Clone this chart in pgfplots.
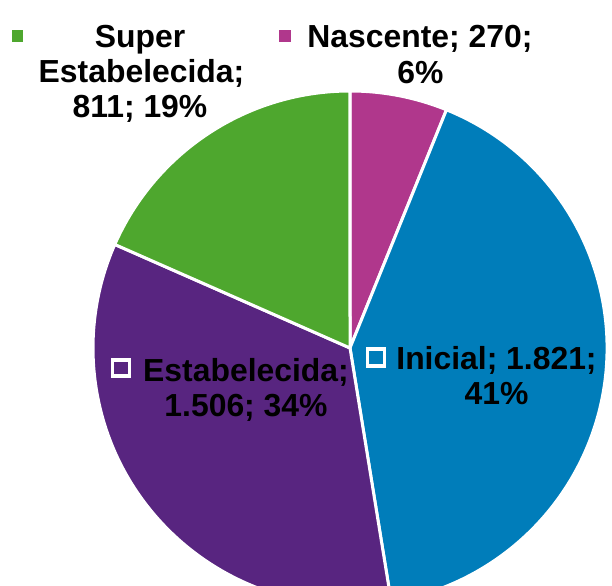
\documentclass[border=0pt]{standalone}
\usepackage{pgfplots}
\pgfplotsset{compat=1.18}
\usepackage{fontspec}
\setmainfont{Liberation Sans}
\definecolor{cNas}{RGB}{176,55,140}
\definecolor{cIni}{RGB}{0,125,186}
\definecolor{cEst}{RGB}{88,37,128}
\definecolor{cSup}{RGB}{78,167,46}
% data
\def\vNas{270}
\def\vIni{1821}
\def\vEst{1506}
\def\vSup{811}
\begin{document}
\begin{tikzpicture}
\path[use as bounding box] (0,0) rectangle (612bp,586bp);
\pgfmathsetmacro{\tot}{\vNas+\vIni+\vEst+\vSup}
\pgfmathsetmacro{\aA}{90}
\pgfmathsetmacro{\aB}{\aA-360*(\vNas/\tot)}
\pgfmathsetmacro{\aC}{\aB-360*(\vIni/\tot)}
\pgfmathsetmacro{\aD}{\aC-360*(\vEst/\tot)}
\pgfmathsetmacro{\aE}{\aD-360*(\vSup/\tot)}
\begin{axis}[
  at={(0,0)}, anchor=south west,
  width=612bp, height=586bp, scale only axis,
  xmin=0, xmax=612, ymin=0, ymax=586,
  hide axis, clip=true,
]
\def\R{257bp}
\tikzset{wedge/.style={draw=white, line width=3bp, line join=round}}
\filldraw[wedge, fill=cNas] (axis cs:350,238) -- +(\aA:\R) arc[start angle=\aA, end angle=\aB, radius=\R] -- cycle;
\filldraw[wedge, fill=cIni] (axis cs:350,238) -- +(\aB:\R) arc[start angle=\aB, end angle=\aC, radius=\R] -- cycle;
\filldraw[wedge, fill=cEst] (axis cs:350,238) -- +(\aC:\R) arc[start angle=\aC, end angle=\aD, radius=\R] -- cycle;
\filldraw[wedge, fill=cSup] (axis cs:350,238) -- +(\aD:\R) arc[start angle=\aD, end angle=\aE, radius=\R] -- cycle;
% labels
\tikzset{lab/.style={anchor=base, inner sep=0pt, font=\fontsize{32}{35}\selectfont\bfseries}}
\node[lab] at (axis cs:140,538) {Super};
\node[lab] at (axis cs:141.5,503) {Estabelecida;};
\node[lab] at (axis cs:140,468) {811; 19\%};
\node[lab] at (axis cs:420,538) {Nascente; 270;};
\node[lab] at (axis cs:420.5,502) {6\%};
\node[lab] at (axis cs:246,204) {Estabelecida;};
\node[lab] at (axis cs:246,169) {1.506; 34\%};
\node[lab] at (axis cs:496.5,216) {Inicial; 1.821;};
\node[lab] at (axis cs:496.5,181) {41\%};
% legend keys
\fill[cSup] (axis cs:12,556) rectangle (axis cs:23,544);
\fill[cNas] (axis cs:279,556) rectangle (axis cs:291,544);
\filldraw[fill=cEst, draw=white, line width=3.5bp] (axis cs:112.5,226) rectangle (axis cs:129.5,210);
\filldraw[fill=cIni, draw=white, line width=3.5bp] (axis cs:367.5,237) rectangle (axis cs:384.5,220);
\end{axis}
\end{tikzpicture}
\end{document}
